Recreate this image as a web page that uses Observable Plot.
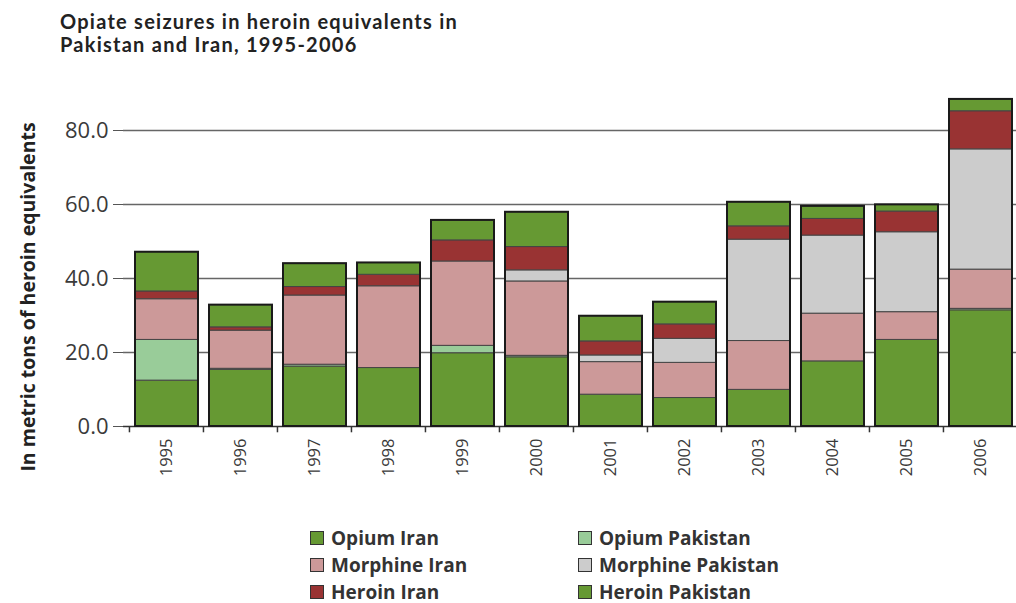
<!DOCTYPE html>
<html><head><meta charset="utf-8">
<script src="https://cdn.jsdelivr.net/npm/d3@7"></script>
<script src="https://cdn.jsdelivr.net/npm/@observablehq/plot@0.6"></script>
<style>
html,body{margin:0;padding:0;background:#fff;}
body{width:1016px;height:603px;position:relative;overflow:hidden;font-family:"Open Sans",sans-serif;}
#title{position:absolute;left:60px;top:10px;font-family:Lato,"Open Sans",sans-serif;font-weight:bold;font-size:20px;line-height:23px;letter-spacing:1.25px;color:#222;white-space:nowrap;}
#chart{position:absolute;left:0;top:0;width:1030px;}
#chart svg{max-width:none !important;}
#ylabel{position:absolute;left:27px;top:297px;transform:translate(-50%,-50%) rotate(-90deg);font-weight:bold;font-size:19.5px;color:#222;white-space:nowrap;}
#legend{position:absolute;left:310px;top:524px;display:grid;grid-template-columns:268px auto;grid-auto-rows:27px;}
.item{display:flex;align-items:center;font-weight:bold;font-size:19px;color:#333;white-space:nowrap;}
.sw{width:12px;height:12px;border:1.5px solid #333;margin-right:7px;box-sizing:content-box;}
</style>
</head><body>
<div id="title">Opiate seizures in heroin equivalents in<br>Pakistan and Iran, 1995-2006</div>
<div id="chart"></div>
<div id="ylabel">In metric tons of heroin equivalents</div>
<div id="legend"></div>
<script>
const years = ["1995","1996","1997","1998","1999","2000","2001","2002","2003","2004","2005","2006"];
const opiumIran        = [12.4, 15.3, 16.2, 15.8, 19.8, 18.7, 8.6, 7.7, 9.9, 17.6, 23.4, 31.4];
const opiumPakistan    = [11.0, 0.3, 0.5, 0, 2.0, 0.4, 0, 0, 0, 0, 0, 0.4];
const morphineIran     = [11.0, 10.3, 18.7, 22.1, 22.8, 20.1, 8.8, 9.5, 13.2, 12.9, 7.5, 10.6];
const morphinePakistan = [0, 0, 0, 0, 0, 3.0, 1.8, 6.5, 27.4, 21.1, 21.6, 32.5];
const heroinIran       = [2.1, 0.9, 2.3, 3.1, 5.7, 6.3, 3.8, 3.9, 3.6, 4.5, 5.6, 10.3];
const heroinPakistan   = [10.6, 6.0, 6.3, 3.2, 5.4, 9.4, 6.8, 6.0, 6.5, 3.4, 1.8, 3.2];
const seriesNames = ["Opium Iran","Opium Pakistan","Morphine Iran","Morphine Pakistan","Heroin Iran","Heroin Pakistan"];
const seriesColors = ["#669933","#99cc99","#cc9999","#cccccc","#993333","#669933"];
const yTicks = [0, 20, 40, 60, 80];

const seriesValues = [opiumIran, opiumPakistan, morphineIran, morphinePakistan, heroinIran, heroinPakistan];
const data = years.flatMap((yr, i) => seriesNames.map((name, s) => ({year: yr, type: name, value: seriesValues[s][i]})));
const totals = years.map((yr, i) => ({year: yr, total: d3.sum(seriesValues, v => v[i])}));

const W = 1025, ML = 123, MR = 1;
const step = (W - ML - MR) / years.length;

const chart = Plot.plot({
  width: W, height: 520,
  marginLeft: ML, marginRight: MR, marginTop: 93, marginBottom: 94,
  style: {fontFamily: "Open Sans", background: "transparent", overflow: "visible", maxWidth: "none"},
  x: {domain: years, padding: 0.15, label: null},
  y: {domain: [0, 90], label: null},
  color: {domain: seriesNames, range: seriesColors},
  marks: [
    Plot.gridY(yTicks.filter(d => d > 0), {stroke: "#666", strokeOpacity: 1, strokeWidth: 1.5}),
    Plot.axisY({ticks: yTicks, tickFormat: d => d.toFixed(1), tickSize: 10, tickPadding: 5, fontSize: 22, fill: "#3a3a3a", stroke: "#555", label: null}),
    Plot.axisX({tickSize: 0, tickRotate: -90, tickPadding: 12, fontSize: 16.5, fill: "#3a3a3a", label: null}),
    Plot.ruleY([0], {stroke: "#333", strokeWidth: 1.5}),
    Plot.ruleX(years, {x: d => d, dx: -step / 2, y1: 0, y2: -1.7, stroke: "#333", strokeWidth: 1.5}),
    Plot.barY(data.filter(d => d.value > 0), {x: "year", y: "value", fill: "type", stroke: "#444", strokeWidth: 1}),
    Plot.barY(totals, {x: "year", y: "total", fill: "none", stroke: "#1a1a1a", strokeWidth: 2})
  ]
});
document.getElementById("chart").appendChild(chart);

const legend = document.getElementById("legend");
seriesNames.forEach((name, i) => {
  const item = document.createElement("div");
  item.className = "item";
  const sw = document.createElement("span");
  sw.className = "sw";
  sw.style.background = seriesColors[i];
  item.appendChild(sw);
  item.appendChild(document.createTextNode(name));
  legend.appendChild(item);
});
</script>
</body></html>
